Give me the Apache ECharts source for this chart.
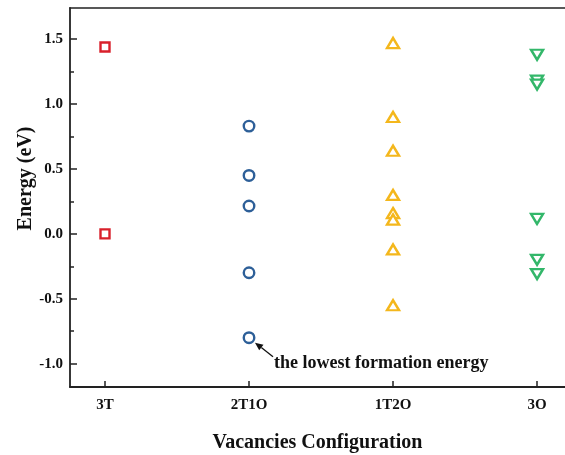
<!DOCTYPE html>
<html>
<head>
<meta charset="utf-8">
<script src="https://cdn.jsdelivr.net/npm/echarts@6/dist/echarts.min.js"></script>
<style>
  html, body { margin: 0; padding: 0; background: #fff; }
  #chart { width: 565px; height: 455px; }
</style>
</head>
<body>
<div id="chart"></div>
<script>
// Vacancy configurations on the x axis
const categories = ['3T', '2T1O', '1T2O', '3O'];

// Formation energies (eV) for each configuration
const energy3T   = [1.44, 0.00];
const energy2T1O = [0.83, 0.45, 0.215, -0.30, -0.80];
const energy1T2O = [1.47, 0.90, 0.64, 0.30, 0.16, 0.11, -0.12, -0.55];
const energy3O   = [1.38, 1.18, 1.15, 0.115, -0.20, -0.31];

// Y axis tick labels
const yMajorTicks = [-1.0, -0.5, 0.0, 0.5, 1.0, 1.5];
const yMinorTicks = [-0.75, -0.25, 0.25, 0.75, 1.25];

const annotationText = 'the lowest formation energy';

const FONT = '"Liberation Serif", "Times New Roman", serif';
const AXIS_COLOR = '#222';

function toPoints(idx, values) {
  return values.map(v => [idx, v]);
}

const chart = echarts.init(document.getElementById('chart'), null, { renderer: 'canvas' });

function markerSeries(name, idx, values, symbol, color, size, extra) {
  return Object.assign({
    name: name,
    type: 'scatter',
    data: toPoints(idx, values),
    symbol: symbol,
    symbolSize: size,
    itemStyle: { color: '#fff', borderColor: color, borderWidth: 2.4, opacity: 1 },
    emphasis: { disabled: true },
    z: 5
  }, extra || {});
}

const X_MIN = -0.243, X_MAX = 3.194;
const Y_MIN = -1.18, Y_MAX = 1.74;

const option = {
  animation: false,
  backgroundColor: '#fff',
  grid: {
    left: 70, top: 8, bottom: 68, right: 0,
    containLabel: false,
    outerBoundsMode: 'none'
  },
  xAxis: [
    {
      type: 'value',
      min: X_MIN, max: X_MAX,
      name: 'Vacancies Configuration',
      nameLocation: 'middle',
      nameGap: 46,
      nameMoveOverlap: false,
      nameTextStyle: { fontFamily: FONT, fontWeight: 'bold', fontSize: 20, color: '#111' },
      splitLine: { show: false },
      axisLine: { show: true, onZero: false, lineStyle: { color: AXIS_COLOR, width: 1.8 } },
      axisTick: {
        show: true, inside: true, length: 6,
        customValues: categories.map((c, i) => i),
        lineStyle: { color: AXIS_COLOR, width: 1.5 }
      },
      axisLabel: {
        customValues: categories.map((c, i) => i),
        formatter: v => categories[Math.round(v)] || '',
        fontFamily: FONT, fontWeight: 'bold', fontSize: 15, color: '#111', margin: 11
      }
    },
    {
      // top frame line
      type: 'value',
      position: 'top',
      min: X_MIN, max: X_MAX,
      splitLine: { show: false },
      axisLine: { show: true, onZero: false, lineStyle: { color: AXIS_COLOR, width: 1.5 } },
      axisTick: { show: false },
      axisLabel: { show: false }
    }
  ],
  yAxis: [
    {
      type: 'value',
      min: Y_MIN, max: Y_MAX,
      name: 'Energy (eV)',
      nameLocation: 'middle',
      nameGap: 34,
      nameMoveOverlap: false,
      nameRotate: 90,
      nameTextStyle: {
        fontFamily: FONT, fontWeight: 'bold', fontSize: 20, color: '#111',
        padding: [0, 0, 0, 38]
      },
      splitLine: { show: false },
      axisLine: { show: true, onZero: false, lineStyle: { color: AXIS_COLOR, width: 1.8 } },
      axisTick: {
        show: true, inside: true, length: 7,
        customValues: yMajorTicks,
        lineStyle: { color: AXIS_COLOR, width: 1.5 }
      },
      axisLabel: {
        customValues: yMajorTicks,
        formatter: v => v.toFixed(1),
        fontFamily: FONT, fontWeight: 'bold', fontSize: 15, color: '#111', margin: 7
      }
    },
    {
      type: 'value',
      position: 'left',
      min: Y_MIN, max: Y_MAX,
      splitLine: { show: false },
      axisLine: { show: false, onZero: false },
      axisTick: {
        show: true, inside: true, length: 4,
        customValues: yMinorTicks,
        lineStyle: { color: AXIS_COLOR, width: 1.5 }
      },
      axisLabel: { show: false }
    }
  ],
  series: [
    markerSeries('3T', 0, energy3T, 'rect', '#d9202b', 9),
    markerSeries('2T1O', 1, energy2T1O, 'circle', '#2d5f98', 10.5),
    markerSeries('1T2O', 2, energy1T2O, 'triangle', '#f4b71c', [12, 10]),
    markerSeries('3O', 3, energy3O, 'triangle', '#33b76a', [12, 10], { symbolRotate: 180 })
  ]
};

chart.setOption(option);

// Arrow and caption pointing at the lowest 2T1O configuration
const lowest = Math.min.apply(null, energy2T1O);
const p = chart.convertToPixel({ xAxisIndex: 0, yAxisIndex: 0 }, [1, lowest]);
const tip = [p[0] + 6, p[1] + 5];
const tail = [p[0] + 24, p[1] + 19];
const ang = Math.atan2(tail[1] - tip[1], tail[0] - tip[0]);
const headLen = 8, headW = 3.5;
const base = [tip[0] + headLen * Math.cos(ang), tip[1] + headLen * Math.sin(ang)];
const nx = -Math.sin(ang), ny = Math.cos(ang);

chart.setOption({
  graphic: [
    {
      type: 'line',
      shape: { x1: base[0], y1: base[1], x2: tail[0], y2: tail[1] },
      style: { stroke: '#111', lineWidth: 1.3 },
      z: 10
    },
    {
      type: 'polygon',
      shape: {
        points: [
          tip,
          [base[0] + nx * headW, base[1] + ny * headW],
          [base[0] - nx * headW, base[1] - ny * headW]
        ]
      },
      style: { fill: '#111' },
      z: 10
    },
    {
      type: 'text',
      x: tail[0] + 1,
      y: tail[1] + 7,
      style: {
        text: annotationText,
        font: 'bold 18px ' + FONT,
        fill: '#111',
        textVerticalAlign: 'middle'
      },
      z: 10
    }
  ]
});
</script>
</body>
</html>
